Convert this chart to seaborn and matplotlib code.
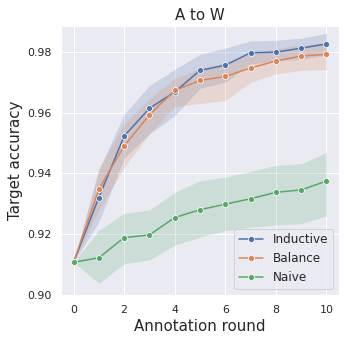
import matplotlib
matplotlib.use("Agg")
import matplotlib.pyplot as plt
import numpy as np
import pandas as pd
import seaborn as sns

rounds = list(range(11))
methods = ["Inductive", "Balance", "Naive"]

inductive_mean = [0.9108, 0.9321, 0.9523, 0.9614, 0.9668, 0.9739, 0.9756, 0.9797, 0.9799, 0.9812, 0.9826]
inductive_low = [0.9108, 0.9240, 0.9450, 0.9530, 0.9590, 0.9680, 0.9700, 0.9760, 0.9770, 0.9775, 0.9790]
inductive_high = [0.9108, 0.9410, 0.9595, 0.9689, 0.9742, 0.9792, 0.9812, 0.9836, 0.9838, 0.9845, 0.9861]

balance_mean = [0.9108, 0.9348, 0.9491, 0.9593, 0.9673, 0.9706, 0.9719, 0.9747, 0.9770, 0.9786, 0.9792]
balance_low = [0.9108, 0.9280, 0.9420, 0.9530, 0.9620, 0.9630, 0.9640, 0.9700, 0.9728, 0.9739, 0.9741]
balance_high = [0.9108, 0.9418, 0.9565, 0.9645, 0.9712, 0.9745, 0.9765, 0.9794, 0.9811, 0.9822, 0.9833]

naive_mean = [0.9108, 0.9123, 0.9189, 0.9198, 0.9255, 0.9281, 0.9299, 0.9317, 0.9338, 0.9346, 0.9375]
naive_low = [0.9108, 0.9039, 0.9103, 0.9116, 0.9164, 0.9191, 0.9212, 0.9223, 0.9231, 0.9235, 0.9261]
naive_high = [0.9108, 0.9213, 0.9269, 0.9280, 0.9338, 0.9376, 0.9388, 0.9407, 0.9427, 0.9432, 0.9469]


def main():
    sns.set_theme(style="darkgrid")

    means = [inductive_mean, balance_mean, naive_mean]
    lows = [inductive_low, balance_low, naive_low]
    highs = [inductive_high, balance_high, naive_high]

    df = pd.DataFrame(
        {
            "round": rounds * 3,
            "acc": sum(means, []),
            "method": np.repeat(methods, len(rounds)),
        }
    )

    fig = plt.figure(figsize=(346 / 72, 342 / 72), dpi=72)
    ax = fig.add_subplot(111)
    fig.subplots_adjust(left=0.176, right=0.98, top=0.924, bottom=0.137)

    colors = sns.color_palette("deep", 3)
    sns.lineplot(data=df, x="round", y="acc", hue="method", hue_order=methods,
                 palette=colors, marker="o", errorbar=None, ax=ax)

    # shaded bands
    for lo, hi, c in zip(lows, highs, colors):
        ax.fill_between(rounds, lo, hi, color=c, alpha=0.2, linewidth=0)

    ax.set_title("A to W", fontsize=15)
    ax.set_xlabel("Annotation round", fontsize=15)
    ax.set_ylabel("Target accuracy", fontsize=15)
    ax.set_xticks([0, 2, 4, 6, 8, 10])
    ax.set_yticks([0.90, 0.92, 0.94, 0.96, 0.98])
    ax.set_ylim(0.90, 0.9885)
    ax.tick_params(labelsize=11)
    ax.legend(loc="lower right", fontsize=12)

    fig.savefig("out.png", dpi=72)


if __name__ == "__main__":
    main()
